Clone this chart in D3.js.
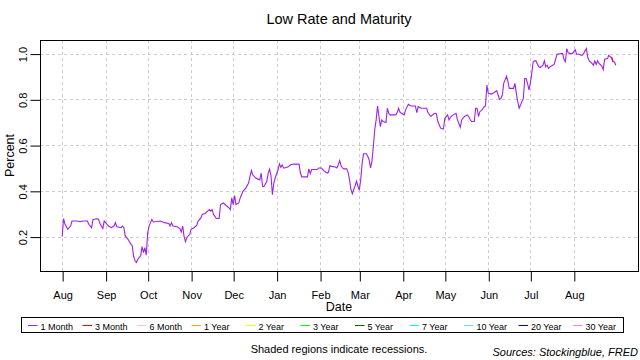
<!DOCTYPE html>
<html>
<head>
<meta charset="utf-8">
<script src="https://cdn.jsdelivr.net/npm/d3@7"></script>
<style>
  body { margin: 0; background: #fff; }
  svg text { font-family: "Liberation Sans", Arial, sans-serif; fill: #000; }
</style>
</head>
<body>
<svg id="chart" width="640" height="360"></svg>
<script>
// 1 month treasury yield
const dates = [
  '2016-08-01','2016-08-02','2016-08-03','2016-08-05','2016-08-07','2016-08-08','2016-08-11','2016-08-14','2016-08-16','2016-08-19',
  '2016-08-20','2016-08-22','2016-08-23','2016-08-26','2016-08-27','2016-08-28','2016-08-30','2016-08-31','2016-09-02','2016-09-03',
  '2016-09-05','2016-09-07','2016-09-08','2016-09-09','2016-09-12','2016-09-13','2016-09-14','2016-09-15','2016-09-17','2016-09-19',
  '2016-09-20','2016-09-21','2016-09-22','2016-09-23','2016-09-24','2016-09-26','2016-09-27','2016-09-28','2016-09-29','2016-09-30',
  '2016-10-01','2016-10-02','2016-10-04','2016-10-05','2016-10-10','2016-10-13','2016-10-16','2016-10-17','2016-10-18','2016-10-19',
  '2016-10-22','2016-10-24','2016-10-25','2016-10-26','2016-10-27','2016-10-28','2016-10-29','2016-10-31','2016-11-01','2016-11-03',
  '2016-11-05','2016-11-06','2016-11-08','2016-11-09','2016-11-11','2016-11-12','2016-11-14','2016-11-15','2016-11-16','2016-11-17',
  '2016-11-19','2016-11-21','2016-11-22','2016-11-24','2016-11-26','2016-11-28','2016-11-29','2016-11-30','2016-12-01','2016-12-02',
  '2016-12-03','2016-12-05','2016-12-06','2016-12-08','2016-12-09','2016-12-10','2016-12-12','2016-12-13','2016-12-14','2016-12-15',
  '2016-12-17','2016-12-20','2016-12-21','2016-12-22','2016-12-23','2016-12-25','2016-12-26','2016-12-27','2016-12-28','2016-12-29',
  '2016-12-30','2016-12-31','2017-01-02','2017-01-03','2017-01-04','2017-01-05','2017-01-06','2017-01-09','2017-01-11','2017-01-13',
  '2017-01-17','2017-01-18','2017-01-19','2017-01-23','2017-01-24','2017-01-25','2017-01-26','2017-01-30','2017-01-31','2017-02-02',
  '2017-02-03','2017-02-04','2017-02-06','2017-02-07','2017-02-08','2017-02-09','2017-02-12','2017-02-13','2017-02-14','2017-02-15',
  '2017-02-16','2017-02-17','2017-02-18','2017-02-20','2017-02-21','2017-02-22','2017-02-23','2017-02-24','2017-02-25','2017-02-26',
  '2017-02-27','2017-02-28','2017-03-01','2017-03-02','2017-03-03','2017-03-04','2017-03-06','2017-03-07','2017-03-08','2017-03-09',
  '2017-03-10','2017-03-11','2017-03-12','2017-03-13','2017-03-14','2017-03-15','2017-03-16','2017-03-17','2017-03-18','2017-03-20',
  '2017-03-21','2017-03-22','2017-03-23','2017-03-27','2017-03-28','2017-03-29','2017-03-30','2017-03-31','2017-04-02','2017-04-03',
  '2017-04-05','2017-04-07','2017-04-10','2017-04-11','2017-04-12','2017-04-14','2017-04-18','2017-04-19','2017-04-21','2017-04-23',
  '2017-04-24','2017-04-25','2017-04-26','2017-04-28','2017-04-30','2017-05-01','2017-05-03','2017-05-04','2017-05-05','2017-05-07',
  '2017-05-09','2017-05-10','2017-05-12','2017-05-13','2017-05-15','2017-05-17','2017-05-18','2017-05-19','2017-05-20','2017-05-22',
  '2017-05-23','2017-05-24','2017-05-25','2017-05-26','2017-05-28','2017-05-29','2017-05-30','2017-05-31','2017-06-01','2017-06-03',
  '2017-06-05','2017-06-07','2017-06-08','2017-06-09','2017-06-10','2017-06-11','2017-06-12','2017-06-14','2017-06-15','2017-06-16',
  '2017-06-19','2017-06-20','2017-06-21','2017-06-22','2017-06-23','2017-06-24','2017-06-25','2017-06-26','2017-06-27','2017-06-28',
  '2017-06-29','2017-06-30','2017-07-01','2017-07-02','2017-07-03','2017-07-04','2017-07-05','2017-07-07','2017-07-08','2017-07-10',
  '2017-07-11','2017-07-12','2017-07-13','2017-07-14','2017-07-15','2017-07-17','2017-07-18','2017-07-19','2017-07-20','2017-07-23',
  '2017-07-24','2017-07-25','2017-07-26','2017-07-27','2017-07-28','2017-07-30','2017-07-31','2017-08-02','2017-08-03','2017-08-05',
  '2017-08-06','2017-08-07','2017-08-08','2017-08-09','2017-08-10','2017-08-11','2017-08-12','2017-08-14','2017-08-15','2017-08-16',
  '2017-08-17','2017-08-18','2017-08-19','2017-08-21','2017-08-22','2017-08-23','2017-08-25','2017-08-26','2017-08-27','2017-08-28',
  '2017-08-29','2017-08-30','2017-08-31'
];

const oneMonth = [
  0.200,0.278,0.255,0.232,0.246,0.268,0.268,0.265,0.268,0.268,
  0.254,0.239,0.275,0.278,0.275,0.257,0.235,0.268,0.254,0.246,
  0.239,0.246,0.261,0.243,0.239,0.246,0.239,0.203,0.188,0.167,
  0.160,0.113,0.094,0.087,0.101,0.116,0.156,0.130,0.152,0.119,
  0.215,0.246,0.275,0.264,0.268,0.261,0.257,0.246,0.261,0.246,
  0.243,0.235,0.220,0.246,0.200,0.178,0.196,0.210,0.232,0.239,
  0.249,0.268,0.282,0.297,0.301,0.307,0.318,0.311,0.318,0.297,
  0.279,0.279,0.340,0.347,0.336,0.326,0.318,0.369,0.340,0.379,
  0.340,0.347,0.369,0.398,0.405,0.412,0.434,0.463,0.489,0.470,
  0.456,0.448,0.477,0.419,0.419,0.441,0.477,0.495,0.466,0.383,
  0.434,0.456,0.492,0.518,0.503,0.513,0.499,0.504,0.514,0.517,
  0.517,0.478,0.461,0.461,0.496,0.475,0.493,0.493,0.500,0.500,
  0.493,0.486,0.478,0.481,0.510,0.507,0.504,0.500,0.514,0.532,
  0.510,0.500,0.496,0.496,0.481,0.449,0.406,0.387,0.406,0.423,
  0.442,0.420,0.403,0.449,0.520,0.562,0.562,0.551,0.536,0.500,
  0.529,0.594,0.667,0.710,0.771,0.725,0.681,0.710,0.703,0.699,
  0.761,0.739,0.732,0.732,0.742,0.761,0.744,0.739,0.732,0.754,
  0.778,0.771,0.771,0.742,0.768,0.761,0.761,0.742,0.725,0.736,
  0.739,0.736,0.703,0.674,0.670,0.717,0.732,0.710,0.722,0.732,
  0.739,0.710,0.678,0.710,0.725,0.732,0.725,0.713,0.703,0.703,
  0.761,0.761,0.725,0.746,0.757,0.768,0.771,0.862,0.826,0.823,
  0.829,0.838,0.819,0.800,0.804,0.819,0.870,0.901,0.877,0.848,
  0.848,0.870,0.826,0.790,0.761,0.775,0.790,0.804,0.891,0.891,
  0.870,0.841,0.870,0.913,0.964,0.968,0.968,0.942,0.939,0.949,
  0.968,0.942,0.949,0.935,0.942,0.949,0.954,0.974,0.997,1.000,
  1.000,0.975,0.964,1.022,1.003,1.000,1.000,1.017,0.997,0.997,
  0.993,0.993,1.000,1.012,1.022,0.983,0.968,0.957,0.949,0.968,
  0.952,0.968,0.957,0.945,0.930,0.975,0.978,0.993,0.986,0.983,
  0.964,0.964,0.949
];

// the only other visible piece: a short red 3 month stretch at the end
const threeMonthDates = ['2017-08-28','2017-08-29'];
const threeMonth = [0.983, 0.964];

const monthTicks = ['2016-08-01','2016-09-01','2016-10-01','2016-11-01','2016-12-01','2017-01-01',
  '2017-02-01','2017-03-01','2017-04-01','2017-05-01','2017-06-01','2017-07-01','2017-08-01'];
const yTicks = [0.2, 0.4, 0.6, 0.8, 1.0];

const legendNames = ['1 Month','3 Month','6 Month','1 Year','2 Year','3 Year','5 Year','7 Year','10 Year','20 Year','30 Year'];
const legendColors = ['#a020f0','#ff0000','#ffc0cb','#ffa500','#ffff00','#00ff00','#006400','#00ffff','#87ceeb','#0000cd','#ee82ee'];

const parse = d3.timeParse('%Y-%m-%d');
const svg = d3.select('#chart');

const plotLeft = 40, plotRight = 638, plotTop = 40, plotBottom = 271;

const series1 = dates.map((d, i) => ({ date: parse(d), value: oneMonth[i] }));
const series3 = threeMonthDates.map((d, i) => ({ date: parse(d), value: threeMonth[i] }));

// R style 4% padding on both axes
const xExt = d3.extent(series1, d => d.date);
const xPad = (xExt[1] - xExt[0]) * 0.04;
const x = d3.scaleTime()
  .domain([new Date(+xExt[0] - xPad), new Date(+xExt[1] + xPad)])
  .range([plotLeft, plotRight]);

const yExt = d3.extent(series1, d => d.value);
const yPad = (yExt[1] - yExt[0]) * 0.04;
const y = d3.scaleLinear()
  .domain([yExt[0] - yPad, yExt[1] + yPad])
  .range([plotBottom, plotTop]);

// grid
const grid = svg.append('g')
  .attr('stroke', '#cccccc')
  .attr('stroke-dasharray', '3,3')
  .attr('stroke-width', 1);

grid.selectAll('.vg')
  .data(monthTicks.map(parse))
  .enter()
  .append('line')
  .attr('x1', d => Math.round(x(d)) + 0.5)
  .attr('x2', d => Math.round(x(d)) + 0.5)
  .attr('y1', plotTop)
  .attr('y2', plotBottom);

grid.selectAll('.hg')
  .data(yTicks)
  .enter()
  .append('line')
  .attr('x1', plotLeft)
  .attr('x2', plotRight)
  .attr('y1', d => Math.round(y(d)) + 0.5)
  .attr('y2', d => Math.round(y(d)) + 0.5);

// lines
const line = d3.line()
  .x(d => x(d.date))
  .y(d => y(d.value));

svg.append('path')
  .datum(series1)
  .attr('d', line)
  .attr('fill', 'none')
  .attr('stroke', legendColors[0])
  .attr('stroke-width', 1.1);

svg.append('path')
  .datum(series3)
  .attr('d', line)
  .attr('fill', 'none')
  .attr('stroke', legendColors[1])
  .attr('stroke-width', 1.1);

// box
svg.append('rect')
  .attr('x', plotLeft + 0.5)
  .attr('y', plotTop + 0.5)
  .attr('width', plotRight - plotLeft)
  .attr('height', plotBottom - plotTop)
  .attr('fill', 'none')
  .attr('stroke', '#000');

// x axis
const xAxis = svg.append('g')
  .attr('transform', `translate(0.5,${plotBottom + 0.5})`)
  .call(d3.axisBottom(x)
    .tickValues(monthTicks.map(parse))
    .tickFormat(d3.timeFormat('%b'))
    .tickSize(10));
xAxis.select('.domain').remove();
xAxis.selectAll('text')
  .attr('y', 27)
  .attr('dy', 0)
  .style('font-size', '11px');

// y axis
const yAxis = svg.append('g')
  .attr('transform', `translate(${plotLeft + 0.5},0.5)`)
  .call(d3.axisLeft(y)
    .tickValues(yTicks)
    .tickFormat(d3.format('.1f'))
    .tickSize(10));
yAxis.select('.domain').remove();
yAxis.selectAll('text')
  .attr('transform', 'rotate(-90)')
  .attr('x', 0)
  .attr('y', -14)
  .attr('dy', 0)
  .style('text-anchor', 'middle')
  .style('font-size', '11px');

// titles
svg.append('text')
  .attr('x', (plotLeft + plotRight) / 2)
  .attr('y', 24)
  .attr('text-anchor', 'middle')
  .style('font-size', '14.5px')
  .text('Low Rate and Maturity');

svg.append('text')
  .attr('x', (plotLeft + plotRight) / 2)
  .attr('y', 311)
  .attr('text-anchor', 'middle')
  .style('font-size', '12.5px')
  .text('Date');

svg.append('text')
  .attr('transform', `translate(14,${(plotTop + plotBottom) / 2}) rotate(-90)`)
  .attr('text-anchor', 'middle')
  .style('font-size', '12.5px')
  .text('Percent');

// legend
svg.append('rect')
  .attr('x', 21.5)
  .attr('y', 317.5)
  .attr('width', 602)
  .attr('height', 15)
  .attr('fill', 'none')
  .attr('stroke', '#000');

const legendItems = legendNames.map((name, i) => ({ name: name, color: legendColors[i], i: i }));

const legend = svg.selectAll('.leg')
  .data(legendItems)
  .enter()
  .append('g')
  .attr('class', 'leg')
  .attr('transform', d => `translate(${28 + d.i * 54.5},0)`);

legend.append('line')
  .attr('x1', 0)
  .attr('x2', 9.5)
  .attr('y1', 325.5)
  .attr('y2', 325.5)
  .style('stroke', d => d.color)
  .style('stroke-width', 1);

legend.append('text')
  .attr('x', 12.5)
  .attr('y', 329.5)
  .style('font-size', '9px')
  .text(d => d.name);

// footer
svg.append('text')
  .attr('x', 339)
  .attr('y', 353)
  .attr('text-anchor', 'middle')
  .style('font-size', '11px')
  .text('Shaded regions indicate recessions.');

svg.append('text')
  .attr('x', 638)
  .attr('y', 356)
  .attr('text-anchor', 'end')
  .style('font-size', '11px')
  .style('font-style', 'italic')
  .text('Sources: Stockingblue, FRED');
</script>
</body>
</html>
